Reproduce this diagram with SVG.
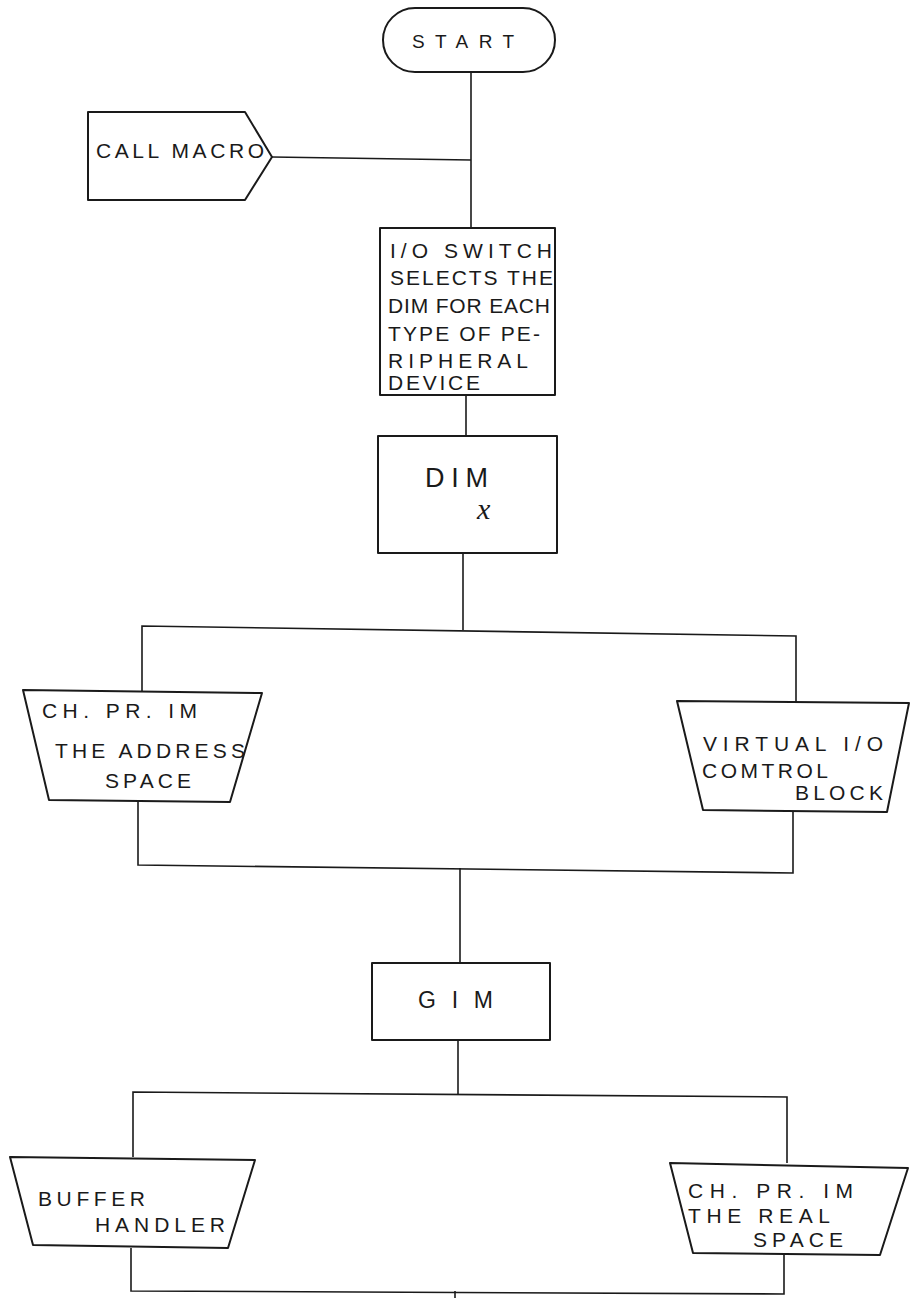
<svg xmlns="http://www.w3.org/2000/svg" width="910" height="1299" viewBox="0 0 910 1299">
<style>
.s{fill:#fff;stroke:#1a1a1a;stroke-width:2;stroke-linejoin:round}
.c{fill:none;stroke:#1a1a1a;stroke-width:1.6}
.t{font-family:"Liberation Sans",Arial,sans-serif;font-size:21px;fill:#1a1a1a}
</style>
<rect width="910" height="1299" fill="#fff"/>
<g id="connectors">
<path class="c" d="M471 72 L471 228"/>
<path class="c" d="M272 157 L471 160"/>
<path class="c" d="M466 395 L466 436"/>
<path class="c" d="M463 553 L463 630"/>
<path class="c" d="M142 693 L142 626 L796 636 L796 703"/>
<path class="c" d="M138 802 L138 865 L793 873 L793 812"/>
<path class="c" d="M460 868 L460 963"/>
<path class="c" d="M458 1040 L458 1095"/>
<path class="c" d="M133 1157 L133 1092 L787 1097 L787 1163"/>
<path class="c" d="M131 1248 L131 1291 L784 1294 L784 1255"/>
<path class="c" d="M455 1291 L455 1298"/>
</g>
<g id="start">
<rect class="s" x="383" y="8" width="172" height="64" rx="32"/>
<text class="t" x="412" y="48" style="font-size:19px" textLength="102" lengthAdjust="spacing">START</text>
</g>
<g id="call-macro">
<path class="s" d="M88 112 L245 112 L272 157 L245 200 L88 200 Z"/>
<text class="t" x="96" y="158" textLength="168" lengthAdjust="spacing">CALL MACRO</text>
</g>
<g id="io-switch">
<rect class="s" x="380" y="228" width="175" height="167"/>
<text class="t" x="390" y="258" textLength="162" lengthAdjust="spacing">I/O SWITCH</text>
<text class="t" x="390" y="285" textLength="163" lengthAdjust="spacing">SELECTS THE</text>
<text class="t" x="388" y="313" textLength="162" lengthAdjust="spacing">DIM FOR EACH</text>
<text class="t" x="388" y="341" textLength="152" lengthAdjust="spacing">TYPE OF PE-</text>
<text class="t" x="388" y="368" textLength="140" lengthAdjust="spacing">RIPHERAL</text>
<text class="t" x="388" y="390" textLength="92" lengthAdjust="spacing">DEVICE</text>
</g>
<g id="dim">
<rect class="s" x="378" y="436" width="179" height="117"/>
<text class="t" x="425" y="487" style="font-size:27px" textLength="63" lengthAdjust="spacing">DIM</text>
<text x="477" y="519" font-family="'Liberation Serif',serif" font-style="italic" font-size="30" fill="#1a1a1a">x</text>
</g>
<g id="ch-pr-address">
<path class="s" d="M23 690 L262 693 L230 802 L49 800 Z"/>
<text class="t" x="42" y="718" textLength="155" lengthAdjust="spacing">CH. PR. IM</text>
<text class="t" x="55" y="758" textLength="190" lengthAdjust="spacing">THE ADDRESS</text>
<text class="t" x="105" y="788" textLength="86" lengthAdjust="spacing">SPACE</text>
</g>
<g id="virtual-io">
<path class="s" d="M677 701 L909 703 L887 812 L703 810 Z"/>
<text class="t" x="703" y="751" textLength="180" lengthAdjust="spacing">VIRTUAL I/O</text>
<text class="t" x="702" y="778" textLength="126" lengthAdjust="spacing">COMTROL</text>
<text class="t" x="795" y="800" textLength="88" lengthAdjust="spacing">BLOCK</text>
</g>
<g id="gim">
<rect class="s" x="372" y="963" width="178" height="77"/>
<text class="t" x="418" y="1008" style="font-size:23px" textLength="75" lengthAdjust="spacing">GIM</text>
</g>
<g id="buffer-handler">
<path class="s" d="M10 1157 L255 1160 L228 1248 L33 1245 Z"/>
<text class="t" x="38" y="1206" textLength="107" lengthAdjust="spacing">BUFFER</text>
<text class="t" x="95" y="1232" textLength="130" lengthAdjust="spacing">HANDLER</text>
</g>
<g id="ch-pr-real">
<path class="s" d="M670 1163 L908 1168 L880 1255 L693 1253 Z"/>
<text class="t" x="688" y="1198" textLength="165" lengthAdjust="spacing">CH. PR. IM</text>
<text class="t" x="688" y="1223" textLength="142" lengthAdjust="spacing">THE REAL</text>
<text class="t" x="753" y="1247" textLength="90" lengthAdjust="spacing">SPACE</text>
</g>
</svg>
